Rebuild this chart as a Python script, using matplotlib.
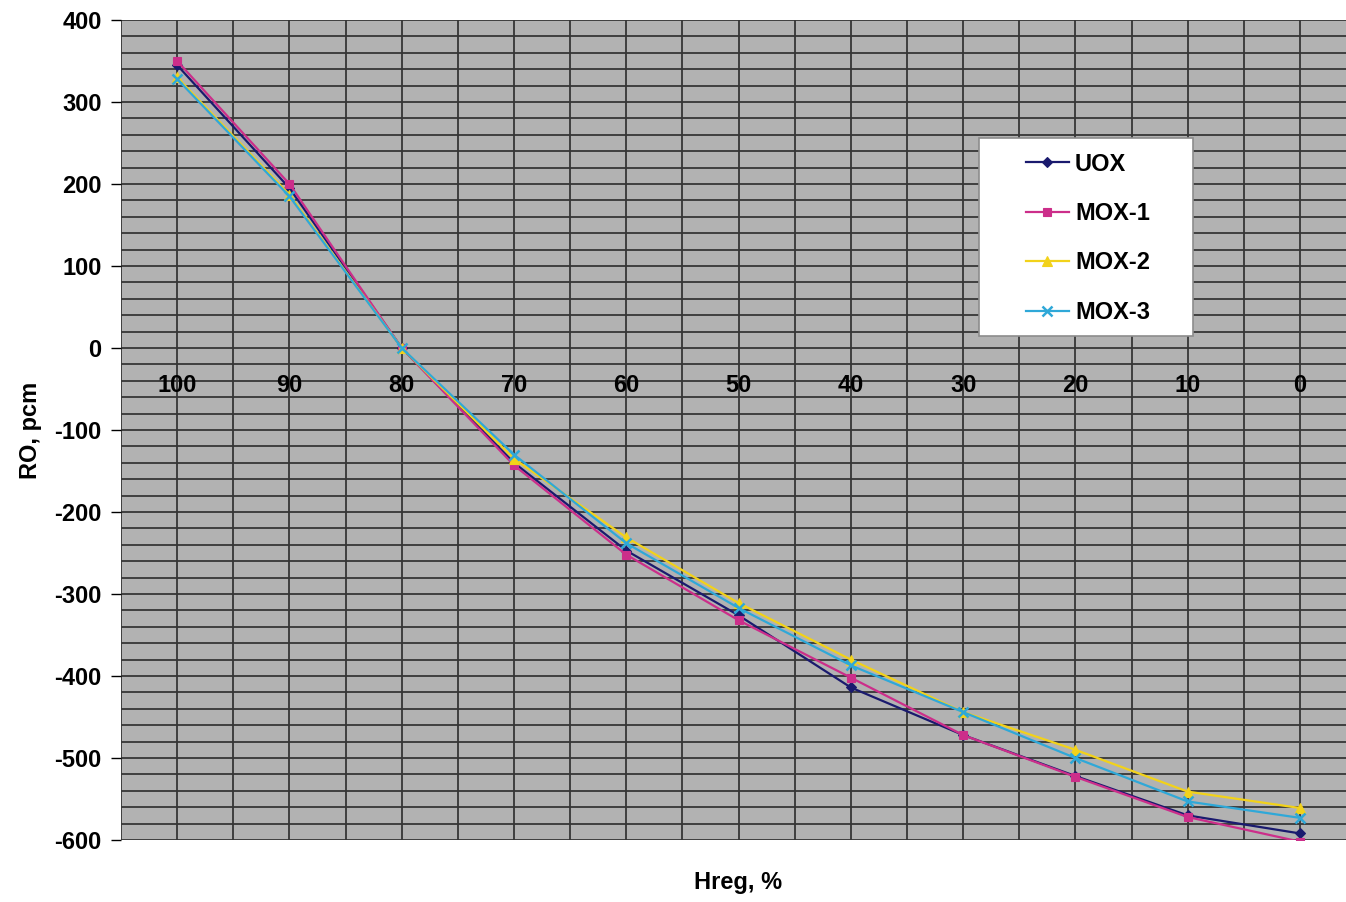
import matplotlib.pyplot as plt
import matplotlib.patches as patches
import numpy as np

plt.rcParams['font.family'] = ['Liberation Sans', 'DejaVu Sans']
plt.rcParams['font.weight'] = 'bold'
plt.rcParams['axes.unicode_minus'] = False

#data
hreg = ['100', '90', '80', '70', '60', '50', '40', '30', '20', '10', '0']
uox = [345, 195, 0, -140, -247, -326, -414, -472, -522, -570, -592]
mox1 = [350, 200, 0, -143, -252, -332, -402, -472, -523, -572, -602]
mox2 = [330, 187, 0, -135, -231, -311, -380, -444, -490, -541, -561]
mox3 = [328, 185, 0, -130, -238, -317, -387, -444, -500, -553, -573]

series = [
    ('UOX', uox, '#1a1a6e', 'D', 5),
    ('MOX-1', mox1, '#cc2e8a', 's', 6),
    ('MOX-2', mox2, '#f2d21a', '^', 7),
    ('MOX-3', mox3, '#2fa8d8', 'x', 7),
]

fig = plt.figure(figsize=(13.46, 9.02), dpi=100)
ax = fig.add_axes([121/1346, 62/902, 1 - 121/1346, (840 - 20)/902])
ax.set_facecolor('#b2b2b2')

x = np.arange(len(hreg))
for name, vals, col, mk, ms in series:
    ax.plot(x, vals, color=col, marker=mk, markersize=ms, lw=1.6,
            markeredgewidth=1.8 if mk == 'x' else 0.8, label=name, zorder=3)

#grid
ax.set_xlim(-0.5, 10.41)
ax.set_ylim(-600, 400)
for gx in np.arange(-0.5, 10.5, 0.5):
    ax.axvline(gx, color='#363636', lw=1.3, zorder=1)
for gy in np.arange(-600, 401, 20):
    ax.axhline(gy, color='#363636', lw=1.3, zorder=1)

ax.set_yticks(np.arange(-600, 401, 100))
ax.tick_params(axis='y', length=7, width=1, pad=7, labelsize=17)
ax.set_xticks([])
for s in ax.spines.values():
    s.set_visible(False)

#category labels sit under the zero line
for i, lab in enumerate(hreg):
    ax.annotate(lab, (i, 0), xytext=(0, -37), textcoords='offset pixels',
                ha='center', va='center', fontsize=17, fontweight='bold', zorder=4)

ax.set_ylabel('RO, pcm', fontsize=17, fontweight='bold', labelpad=9)
fig.text(738/1346, 1 - 883/902, 'Hreg, %', ha='center', va='center',
         fontsize=17, fontweight='bold')

#legend box
box = patches.Rectangle((979/1346, 1 - 336/902), (1193 - 979)/1346, (336 - 138)/902,
                        transform=fig.transFigure, facecolor='white',
                        edgecolor='#8c8c8c', lw=1.2, zorder=4)
ax.add_patch(box)
leg = ax.legend(loc='upper left', bbox_to_anchor=(1009/1346, 1 - 136/902),
                bbox_transform=fig.transFigure, frameon=False, fontsize=17,
                handlelength=1.85, handletextpad=0.25, labelspacing=1.12,
                borderpad=0.2)
leg.set_zorder(5)
for t in leg.get_texts():
    t.set_fontweight('bold')

fig.savefig('out.png', dpi=100)
